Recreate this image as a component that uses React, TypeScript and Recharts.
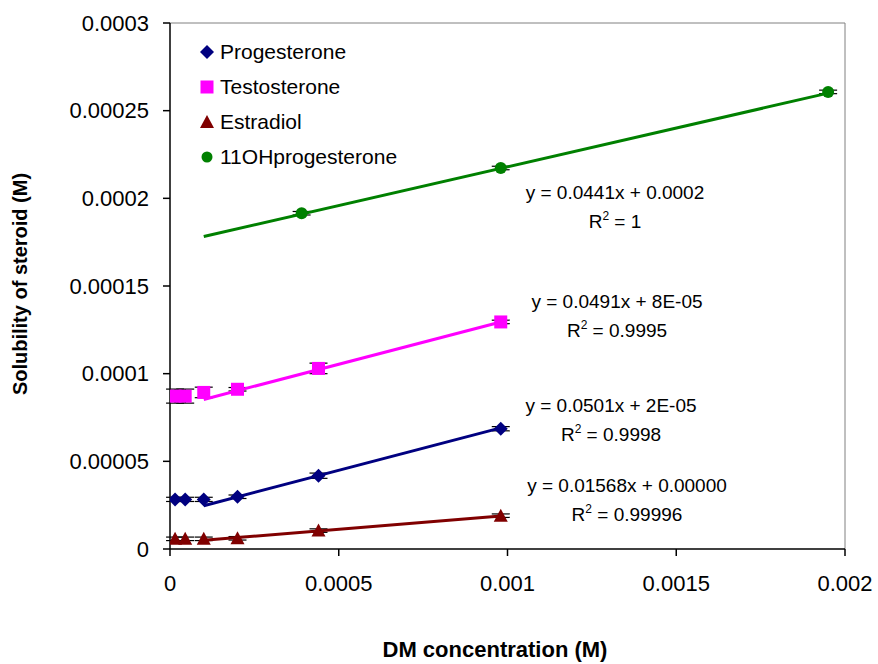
import React from 'react';
import { ScatterChart, Scatter, XAxis, YAxis, ErrorBar, ReferenceLine, Legend } from 'recharts';

// DM concentration (M)
const xSmall = [0.000015, 0.000045, 0.0001, 0.0002, 0.00044, 0.00098];
const xOH = [0.00039, 0.00098, 0.00195];

// Solubility (M)
const yProg = [0.0000283, 0.0000283, 0.0000283, 0.0000298, 0.0000418, 0.0000686];
const eProg = [0.0000012, 0.0000012, 0.0000012, 0.000001, 0.0000015, 0.0000012];
const yTest = [0.0000872, 0.0000872, 0.0000893, 0.0000911, 0.000103, 0.0001295];
const eTest = [0.000004, 0.000004, 0.000003, 0.000001, 0.000003, 0.000001];
const yEstr = [0.0000058, 0.0000058, 0.0000058, 0.0000061, 0.0000105, 0.000019];
const eEstr = [0.000001, 0.000001, 0.000001, 0.000001, 0.000001, 0.000001];
const yOH = [0.0001915, 0.0002173, 0.0002607];
const eOH = [0.000001, 0.000001, 0.000001];

// Trendline end points
const trendXShort = [0.0001, 0.00098];
const trendXLong = [0.0001, 0.00195];
const trendProg = [0.0000247, 0.0000691];
const trendTest = [0.0000853, 0.0001295];
const trendEstr = [0.000005, 0.0000188];
const trendOH = [0.0001782, 0.00026];

const xTicks = [0, 0.0005, 0.001, 0.0015, 0.002];
const yTicks = [0, 0.00005, 0.0001, 0.00015, 0.0002, 0.00025, 0.0003];

const seriesNames = ['Progesterone', 'Testosterone', 'Estradiol', '11OHprogesterone'];
const colors = ['#000080', '#FF00FF', '#800000', '#008000'];
const shapes = ['diamond', 'square', 'triangle', 'circle'];

const equations = [
  { eq: 'y = 0.0441x + 0.0002', r2: ' = 1', x: 615, y: 199 },
  { eq: 'y = 0.0491x + 8E-05', r2: ' = 0.9995', x: 617, y: 308 },
  { eq: 'y = 0.0501x + 2E-05', r2: ' = 0.9998', x: 611, y: 412 },
  { eq: 'y = 0.01568x + 0.00000', r2: ' = 0.99996', x: 627, y: 492 },
];

const FONT = '"Liberation Sans", Arial, sans-serif';

const build = (xs: number[], ys: number[], es?: number[]) =>
  xs.map((x, i) => ({ x, y: ys[i], err: es ? es[i] : 0 }));

const markerPath = (kind: string, cx: number, cy: number) => {
  const r = 7;
  if (kind === 'diamond') return `M${cx},${cy - r}L${cx + r},${cy}L${cx},${cy + r}L${cx - r},${cy}Z`;
  if (kind === 'square') return `M${cx - 6.5},${cy - 6.5}H${cx + 6.5}V${cy + 6.5}H${cx - 6.5}Z`;
  if (kind === 'triangle') return `M${cx},${cy - 7}L${cx + 7},${cy + 6}L${cx - 7},${cy + 6}Z`;
  return '';
};

const Marker = (kind: string, color: string) => (p: any) => {
  if (p.cx == null || p.cy == null) return <g />;
  if (kind === 'circle') return <circle cx={p.cx} cy={p.cy} r={6} fill={color} />;
  return <path d={markerPath(kind, p.cx, p.cy)} fill={color} />;
};

const NoShape = () => <g />;

const LegendContent = () => (
  <div style={{ fontFamily: FONT, fontSize: 21, color: '#000' }}>
    {seriesNames.map((n, i) => (
      <div key={n} style={{ height: 35, display: 'flex', alignItems: 'center' }}>
        <svg width={14} height={14} style={{ marginRight: 6 }}>
          {shapes[i] === 'circle' ? (
            <circle cx={7} cy={7} r={5.5} fill={colors[i]} />
          ) : (
            <path d={markerPath(shapes[i], 7, 7)} fill={colors[i]} />
          )}
        </svg>
        <span>{n}</span>
      </div>
    ))}
  </div>
);

export default function App() {
  const pts = [
    build(xSmall, yProg, eProg),
    build(xSmall, yTest, eTest),
    build(xSmall, yEstr, eEstr),
    build(xOH, yOH, eOH),
  ];
  const trends = [
    build(trendXShort, trendProg),
    build(trendXShort, trendTest),
    build(trendXShort, trendEstr),
    build(trendXLong, trendOH),
  ];
  return (
    <div style={{ position: 'absolute', left: 0, top: 0, width: 878, height: 664, background: '#fff' }}>
      <ScatterChart width={878} height={664} margin={{ top: 23, right: 33, left: 0, bottom: 75 }}>
        <XAxis
          type="number"
          dataKey="x"
          domain={[0, 0.002]}
          ticks={xTicks}
          tickFormatter={(v: number) => String(v)}
          axisLine={{ stroke: '#000', strokeWidth: 1.5 }}
          tickLine={{ stroke: '#000', strokeWidth: 1.5 }}
          tickSize={7}
          tickMargin={19}
          height={40}
          tick={{ fill: '#000', fontSize: 22, fontFamily: FONT }}
          allowDataOverflow
        />
        <YAxis
          type="number"
          dataKey="y"
          domain={[0, 0.0003]}
          ticks={yTicks}
          tickFormatter={(v: number) => String(v)}
          axisLine={{ stroke: '#000', strokeWidth: 1.5 }}
          tickLine={{ stroke: '#000', strokeWidth: 1.5 }}
          tickSize={7}
          tickMargin={14}
          width={170}
          tick={{ fill: '#000', fontSize: 22, fontFamily: FONT }}
          allowDataOverflow
        />
        <ReferenceLine y={0.0003} stroke="#808080" strokeWidth={1} />
        <ReferenceLine x={0.002} stroke="#808080" strokeWidth={1} />
        {pts.map((d, i) => (
          <Scatter
            key={'e' + i}
            data={d}
            shape={NoShape}
            legendType="none"
            isAnimationActive={false}
          >
            <ErrorBar dataKey="err" direction="y" width={9} stroke="#000" strokeWidth={1.2} />
          </Scatter>
        ))}
        {trends.map((d, i) => (
          <Scatter
            key={'t' + i}
            data={d}
            line={{ stroke: colors[i], strokeWidth: 3 }}
            shape={NoShape}
            legendType="none"
            isAnimationActive={false}
          />
        ))}
        {pts.map((d, i) => (
          <Scatter
            key={'p' + i}
            name={seriesNames[i]}
            data={d}
            fill={colors[i]}
            shape={Marker(shapes[i], colors[i])}
            isAnimationActive={false}
          />
        ))}
        <Legend
          layout="vertical"
          verticalAlign="middle"
          align="center"
          content={LegendContent}
          wrapperStyle={{ left: 200, top: 34, width: 260 }}
        />
        <g fontFamily={FONT} fill="#000">
          {equations.map((e, i) => (
            <g key={i}>
              <text x={e.x} y={e.y} textAnchor="middle" fontSize={19}>{e.eq}</text>
              <text x={e.x} y={e.y + 29} textAnchor="middle" fontSize={19}>
                R<tspan dy={-8} fontSize={12}>2</tspan>
                <tspan dy={8}>{e.r2}</tspan>
              </text>
            </g>
          ))}
          <text x={495} y={657} textAnchor="middle" fontSize={22} fontWeight="bold">DM concentration (M)</text>
          <text
            x={0}
            y={0}
            transform="translate(27,284) rotate(-90)"
            textAnchor="middle"
            fontSize={20}
            fontWeight="bold"
          >
            Solubility of steroid (M)
          </text>
        </g>
      </ScatterChart>
    </div>
  );
}
